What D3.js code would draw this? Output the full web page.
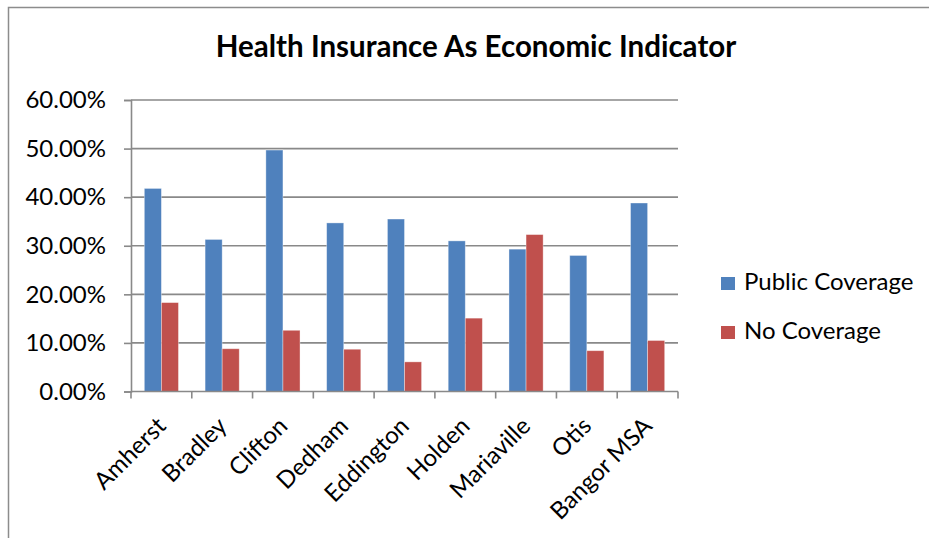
<!DOCTYPE html>
<html>
<head>
<meta charset="utf-8">
<script src="https://cdn.jsdelivr.net/npm/d3@7"></script>
<style>
  html, body { margin: 0; padding: 0; background: #fff; }
  svg { display: block; font-family: Lato, "Open Sans", sans-serif; }
</style>
</head>
<body>
<svg id="chart" width="929" height="538"></svg>
<script>
// Towns compared, with the share of residents on public coverage and with no coverage
const towns = ["Amherst", "Bradley", "Clifton", "Dedham", "Eddington", "Holden", "Mariaville", "Otis", "Bangor MSA"];
const publicCoverage = [0.418, 0.313, 0.497, 0.347, 0.355, 0.310, 0.293, 0.280, 0.388];
const noCoverage     = [0.183, 0.088, 0.126, 0.087, 0.061, 0.151, 0.323, 0.084, 0.105];
const seriesNames = ["Public Coverage", "No Coverage"];
const seriesColors = ["#4F81BD", "#C0504D"];
const yTicks = [0, 0.1, 0.2, 0.3, 0.4, 0.5, 0.6];
const title = "Health Insurance As Economic Indicator";

const svg = d3.select("#chart");
const gridColor = "#898989";
const labelSize = "24px";

// Outer chart frame (top and left edges visible)
svg.append("path")
  .attr("d", "M8.5,538 V7.5 H929")
  .attr("fill", "none")
  .attr("stroke", "#8c8c8c")
  .attr("stroke-width", 1.5);

const plot = { left: 131, right: 678, top: 100, bottom: 391.5 };

const x = d3.scaleBand()
  .domain(towns)
  .range([plot.left, plot.right])
  .paddingInner(0)
  .paddingOuter(0);

const xInner = d3.scaleBand()
  .domain(seriesNames)
  .range([0, x.bandwidth()])
  .paddingInner(0)
  .paddingOuter(0.78);

const y = d3.scaleLinear()
  .domain([0, 0.6])
  .range([plot.bottom, plot.top]);

// Horizontal gridlines
svg.append("g")
  .selectAll("line")
  .data(yTicks.filter(d => d > 0))
  .join("line")
  .attr("x1", plot.left)
  .attr("x2", plot.right)
  .attr("y1", d => y(d))
  .attr("y2", d => y(d))
  .attr("stroke", gridColor)
  .attr("stroke-width", 1.6);

// Bars
const rows = towns.map((t, i) => ({ town: t, values: [publicCoverage[i], noCoverage[i]] }));
const groups = svg.append("g")
  .selectAll("g")
  .data(rows)
  .join("g")
  .attr("transform", d => `translate(${x(d.town)},0)`);

groups.selectAll("rect")
  .data(d => d.values.map((v, k) => ({ key: seriesNames[k], value: v, color: seriesColors[k] })))
  .join("rect")
  .attr("x", d => xInner(d.key))
  .attr("width", xInner.bandwidth())
  .attr("y", d => y(d.value))
  .attr("height", d => y(0) - y(d.value))
  .attr("fill", d => d.color)
  .attr("stroke", "rgba(255,255,255,0.45)")
  .attr("stroke-width", 0.8);

// Y axis
const yAxis = svg.append("g")
  .attr("transform", `translate(${plot.left},0)`)
  .call(d3.axisLeft(y).tickValues(yTicks).tickFormat(d3.format(".2%")).tickSize(7).tickPadding(18));
yAxis.select(".domain").attr("stroke", gridColor).attr("stroke-width", 1.6);
yAxis.selectAll(".tick line").attr("stroke", gridColor).attr("stroke-width", 1.6);
yAxis.selectAll(".tick text")
  .attr("fill", "#000")
  .style("font-size", labelSize)
  .style("font-family", "Lato, 'Open Sans', sans-serif");

// X axis with tick marks at category boundaries
const xAxisG = svg.append("g")
  .attr("transform", `translate(0,${plot.bottom})`);
xAxisG.append("line")
  .attr("x1", plot.left).attr("x2", plot.right)
  .attr("stroke", gridColor).attr("stroke-width", 1.6);
const boundaries = towns.map(t => x(t)).concat([x(towns[towns.length - 1]) + x.bandwidth()]);
xAxisG.selectAll("line.tick")
  .data(boundaries)
  .join("line")
  .attr("class", "tick")
  .attr("x1", d => d).attr("x2", d => d)
  .attr("y1", 0).attr("y2", 7)
  .attr("stroke", gridColor).attr("stroke-width", 1.6);

xAxisG.selectAll("text")
  .data(towns)
  .join("text")
  .attr("transform", d => `translate(${x(d) + x.bandwidth() / 2 + 6},36) rotate(-45)`)
  .attr("text-anchor", "end")
  .style("font-size", labelSize)
  .attr("fill", "#000")
  .text(d => d);

// Title
svg.append("text")
  .attr("x", 476)
  .attr("y", 57)
  .attr("text-anchor", "middle")
  .style("font-size", "29.5px")
  .style("font-weight", "bold")
  .attr("fill", "#000")
  .text(title);

// Legend
const legend = svg.append("g");
const legendRows = legend.selectAll("g")
  .data(seriesNames)
  .join("g")
  .attr("transform", (d, i) => `translate(721,${277 + i * 49})`);
legendRows.append("rect")
  .attr("width", 14)
  .attr("height", 13)
  .attr("fill", (d, i) => seriesColors[i]);
legendRows.append("text")
  .attr("x", 23)
  .attr("y", 13)
  .style("font-size", labelSize)
  .attr("fill", "#000")
  .text(d => d);
</script>
</body>
</html>
